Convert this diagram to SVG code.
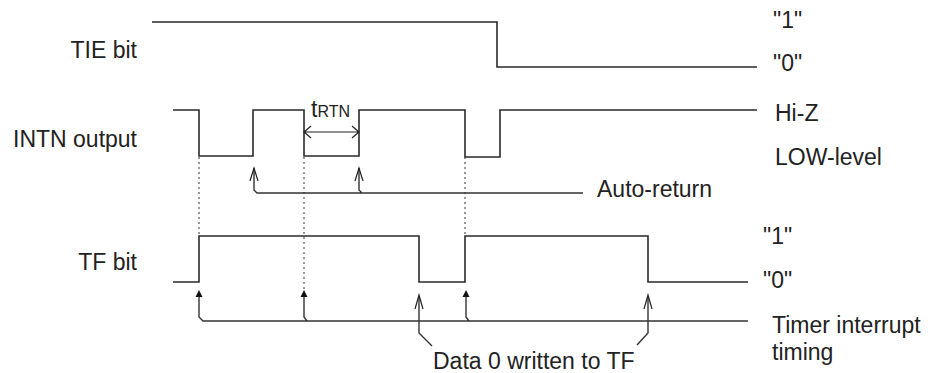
<svg xmlns="http://www.w3.org/2000/svg" width="928" height="373" viewBox="0 0 928 373">
<style>
text{font-family:"Liberation Sans",Arial,sans-serif;font-size:23px;fill:#222}
.sig{fill:none;stroke:#2a2a2a;stroke-width:1.6}
.ln{fill:none;stroke:#333;stroke-width:1.4}
.dot{fill:none;stroke:#333;stroke-width:1;stroke-dasharray:2 3}
.open{fill:none;stroke:#222;stroke-width:1.2}
.fill{fill:#111;stroke:none}
</style>
<rect width="928" height="373" fill="#fff"/>
<g id="tie">
<text x="137" y="58" text-anchor="end">TIE bit</text>
<path class="sig" d="M152,22 H497 V67 H757"/>
<text x="773" y="28">"1"</text>
<text x="773" y="71">"0"</text>
</g>
<g id="intn">
<text x="137" y="147" text-anchor="end">INTN output</text>
<path class="sig" d="M173,110 H199 V156 H253 V110 H304 V156 H359 V110 H465 V157 H500 V110 H757"/>
<text x="775" y="121">Hi-Z</text>
<text x="775" y="165">LOW-level</text>
<text x="311" y="117" font-size="22">t<tspan font-size="16">RTN</tspan></text>
</g>
<g id="tf">
<text x="137" y="270" text-anchor="end">TF bit</text>
<path class="sig" d="M173,282 H199 V236 H419 V282 H465 V236 H648 V282 H748"/>
<text x="763" y="244">"1"</text>
<text x="763" y="288">"0"</text>
</g>
<g id="autoreturn-label">
<text x="597" y="197">Auto-return</text>
</g>
<g id="timer-label">
<text x="772" y="333">Timer interrupt</text>
<text x="772" y="360">timing</text>
</g>
<g id="data0-label">
<text x="433" y="369">Data 0 written to TF</text>
</g>
<g id="connectors">
<path class="dot" d="M199,157 V236 M304,157 V290 M465,157 V236"/>
<!-- tRTN dimension -->
<path class="open" d="M304,132 H359 M311,126 L304,132 L311,138 M352,126 L359,132 L352,138"/>
<!-- auto-return -->
<path class="ln" d="M254,168 V190 L257,193 H583 M359,168 V190 L362,193"/>
<path class="open" d="M250,181 L254,168 L258,181 M355,181 L359,168 L363,181"/>
<!-- timer interrupt -->
<path class="ln" d="M199,296 V317 L203,321 H748 M304,296 V317 L307,321 M466,296 V317 L469,321"/>
<path class="fill" d="M199,290 L202.5,297 H195.5 Z M304,290 L307.5,297 H300.5 Z M466,290 L469.5,297 H462.5 Z"/>
<!-- data 0 written -->
<path class="ln" d="M419,296 V333 L432,346 M648,296 V333 L637,345"/>
<path class="open" d="M415,309 L419,295 L423,309 M644,309 L648,295 L652,309"/>
</g>
</svg>
